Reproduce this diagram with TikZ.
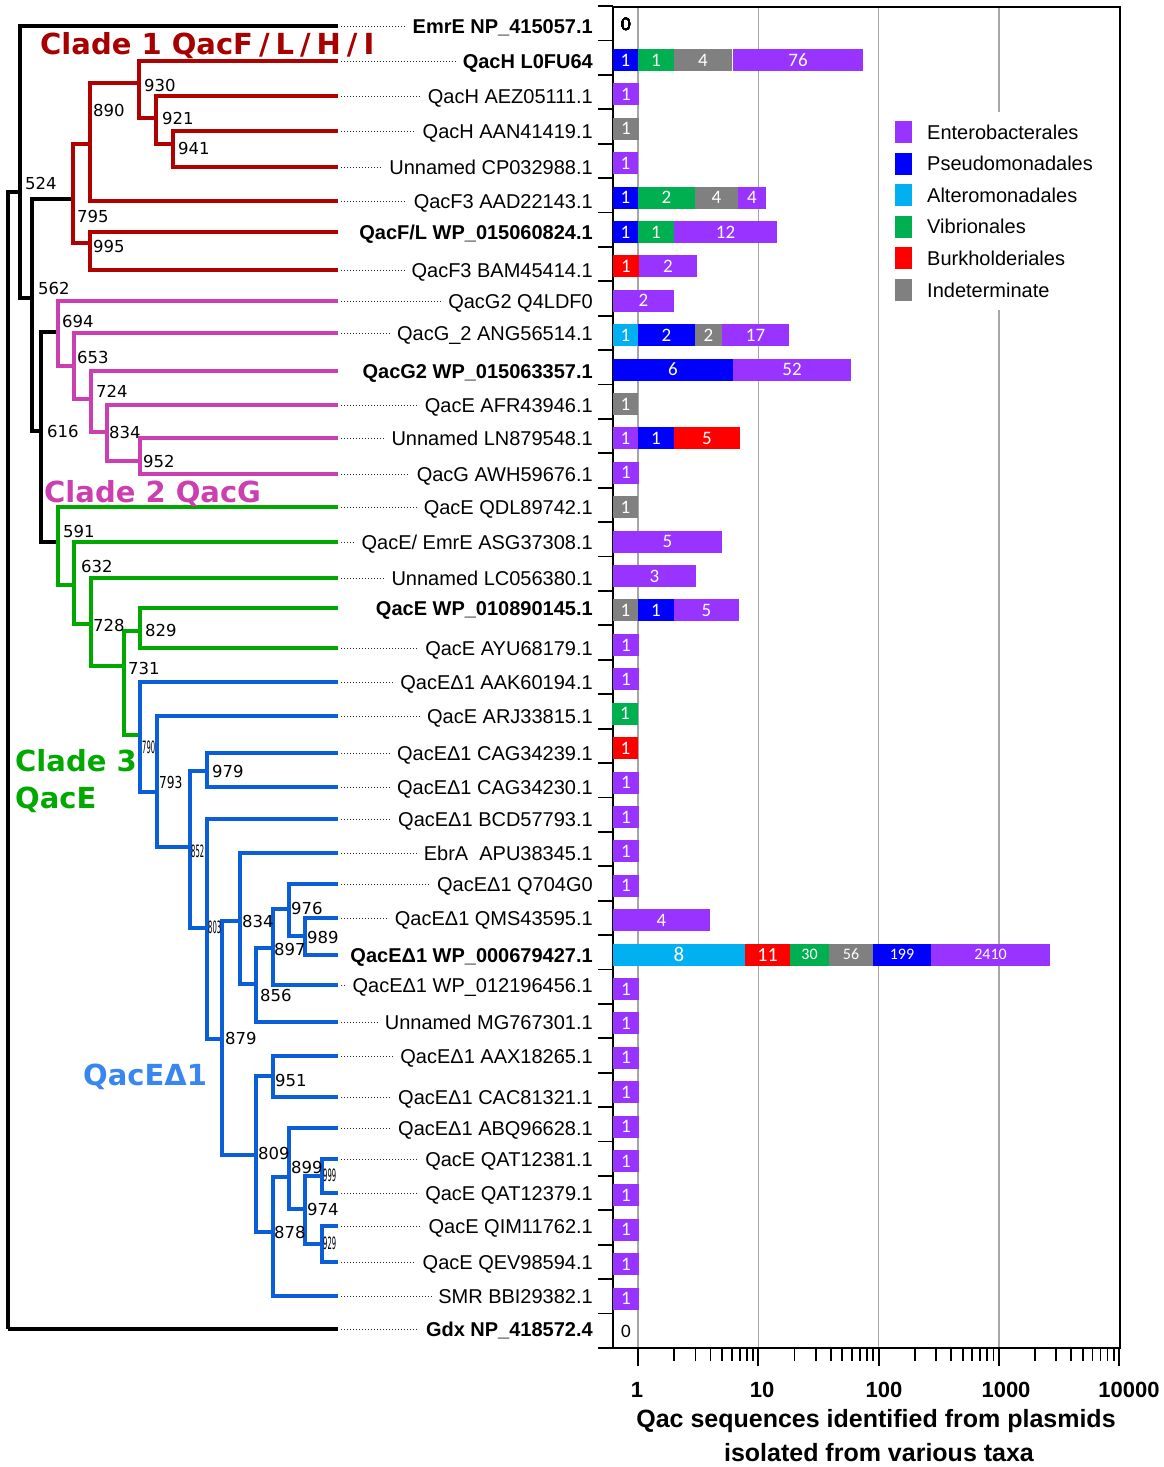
\documentclass[tikz,border=0pt]{standalone}
\usepackage{fontspec}
\usepackage{graphicx}
\setmainfont{Liberation Sans}
\newfontfamily\treefont{DejaVu Sans}
\newfontfamily\barfont{Carlito}
\usepackage{tikz}
\usetikzlibrary{calc}

% taxa colours
\definecolor{ent}{HTML}{9933FF}
\definecolor{pse}{HTML}{0000FF}
\definecolor{alt}{HTML}{00B0F0}
\definecolor{vib}{HTML}{00B050}
\definecolor{bur}{HTML}{FF0000}
\definecolor{ind}{HTML}{808080}
% clade colours
\definecolor{cladered}{HTML}{B00000}
\definecolor{clademag}{HTML}{CC3FB0}
\definecolor{cladegreen}{HTML}{00A800}
\definecolor{cladeblue}{HTML}{0A5FD8}
\definecolor{labelblue}{HTML}{3A86F0}

% one stacked bar piece: [node opts]{row}{x0}{x1}{colour}{count}
\newcommand{\seg}[6][]{%
  \fill[#5] (#3,{25.5+34.41*#2-11}) rectangle (#4,{25.5+34.41*#2+11});
  \node[barnum,#1] (v#2x#3) at ({(#3+#4)/2},{25.5+34.41*#2}) {#6};
}

\begin{document}
\begin{tikzpicture}[x=1pt,y=-1pt,
  branch/.style={line width=3.3pt},
  leader/.style={black!85, line width=0.8pt, dash pattern=on 1pt off 2pt},
  leaf/.style={anchor=base east, inner sep=0pt, font=\fontsize{20}{20}\selectfont},
  boot/.style={anchor=west, inner sep=0pt, font=\treefont\fontsize{16.5}{16.5}\selectfont},
  tinyboot/.style={boot, font=\treefont\fontsize{17}{17}\selectfont},
  clade/.style={anchor=base west, inner sep=0pt, font=\treefont\bfseries\fontsize{29}{29}\selectfont},
  barnum/.style={text=white, inner sep=0pt, font=\barfont\fontsize{19}{19}\selectfont},
  smallnum/.style={font=\barfont\fontsize{16}{16}\selectfont},
  zerolab/.style={inner sep=0pt, font=\barfont\fontsize{19}{19}\selectfont},
  gridline/.style={black!35, line width=1.3pt},
  axisline/.style={black, line width=1.8pt},
  legtext/.style={anchor=base west, inner sep=0pt, font=\fontsize{20}{20}\selectfont},
  ticklab/.style={inner sep=0pt, font=\bfseries\fontsize{22}{22}\selectfont},
  axtitle/.style={inner sep=0pt, font=\bfseries\fontsize{25}{25}\selectfont}]
\useasboundingbox (0,0) rectangle (1163,1467);

% tips
\foreach \k/\y in {0/26,1/61,2/96,3/131,4/167,5/201,6/232,7/270,8/301,9/333,
  10/371,11/405,12/438,13/474,14/507,15/542,16/578,17/608,18/648,19/682,
  20/716,21/753,22/787,23/819,24/853,25/884,26/918,27/955,28/985,29/1022,
  30/1056,31/1097,32/1128,33/1159,34/1193,35/1226,36/1262,37/1296,38/1329}
  \coordinate (t\k) at (338,\y);

% inner nodes
\coordinate (nA) at (8,1329);
\coordinate (nB) at (20,192);
\coordinate (nC) at (32,298);
\coordinate (nD) at (41,431);
\coordinate (n795) at (73,199);
\coordinate (n890) at (90,144);
\coordinate (n930) at (139,83);
\coordinate (n921) at (156,118);
\coordinate (n941) at (173,144);
\coordinate (n995) at (90,243);
\coordinate (n694) at (58,332);
\coordinate (n653) at (74,366);
\coordinate (n724) at (91,399);
\coordinate (n834a) at (107,432);
\coordinate (n952) at (140,461);
\coordinate (n591) at (58,542);
\coordinate (n632) at (74,585);
\coordinate (n728) at (91,624);
\coordinate (n731) at (124,666);
\coordinate (n829) at (140,631);
\coordinate (n790) at (140,735);
\coordinate (n793) at (157,792);
\coordinate (n852) at (190,847);
\coordinate (n979) at (207,771);
\coordinate (n803) at (207,928);
\coordinate (n879) at (222,1039);
\coordinate (n834b) at (240,921);
\coordinate (n856) at (256,984);
\coordinate (n897) at (273,948);
\coordinate (n976) at (289,909);
\coordinate (n989) at (305,936);
\coordinate (n809) at (256,1155);
\coordinate (n951) at (273,1076);
\coordinate (n878) at (273,1232);
\coordinate (n899) at (289,1177);
\coordinate (n974) at (305,1209);
\coordinate (n999) at (322,1176);
\coordinate (n929) at (322,1244);

% backbone
\draw[branch] (nA) |- (nB) (nA) |- (t38);
\draw[branch] (nB) |- (t0) (nB) |- (nC);
\draw[branch] (nC) |- (n795) (nC) |- (nD);
\draw[branch] (nD) |- (n694) (nD) |- (n591);

% clade 1
\draw[branch, cladered] (n795) |- (n890) (n795) |- (n995);
\draw[branch, cladered] (n890) |- (n930) (n890) |- (t5);
\draw[branch, cladered] (n930) |- (t1) (n930) |- (n921);
\draw[branch, cladered] (n921) |- (t2) (n921) |- (n941);
\draw[branch, cladered] (n941) |- (t3) (n941) |- (t4);
\draw[branch, cladered] (n995) |- (t6) (n995) |- (t7);

% clade 2
\draw[branch, clademag] (n694) |- (t8) (n694) |- (n653);
\draw[branch, clademag] (n653) |- (t9) (n653) |- (n724);
\draw[branch, clademag] (n724) |- (t10) (n724) |- (n834a);
\draw[branch, clademag] (n834a) |- (t11) (n834a) |- (n952);
\draw[branch, clademag] (n952) |- (t12) (n952) |- (t13);

% clade 3
\draw[branch, cladegreen] (n591) |- (t14) (n591) |- (n632);
\draw[branch, cladegreen] (n632) |- (t15) (n632) |- (n728);
\draw[branch, cladegreen] (n728) |- (t16) (n728) |- (n731);
\draw[branch, cladegreen] (n731) |- (n829) (n731) |- (n790);
\draw[branch, cladegreen] (n829) |- (t17) (n829) |- (t18);

% QacE delta 1
\draw[branch, cladeblue] (n790) |- (t19) (n790) |- (n793);
\draw[branch, cladeblue] (n793) |- (t20) (n793) |- (n852);
\draw[branch, cladeblue] (n852) |- (n979) (n852) |- (n803);
\draw[branch, cladeblue] (n979) |- (t21) (n979) |- (t22);
\draw[branch, cladeblue] (n803) |- (t23) (n803) |- (n879);
\draw[branch, cladeblue] (n879) |- (n834b) (n879) |- (n809);
\draw[branch, cladeblue] (n834b) |- (t24) (n834b) |- (n856);
\draw[branch, cladeblue] (n856) |- (n897) (n856) |- (t29);
\draw[branch, cladeblue] (n897) |- (n976) (n897) |- (t28);
\draw[branch, cladeblue] (n976) |- (t25) (n976) |- (n989);
\draw[branch, cladeblue] (n989) |- (t26) (n989) |- (t27);
\draw[branch, cladeblue] (n809) |- (n951) (n809) |- (n878);
\draw[branch, cladeblue] (n951) |- (t30) (n951) |- (t31);
\draw[branch, cladeblue] (n878) |- (n899) (n878) |- (t37);
\draw[branch, cladeblue] (n899) |- (t32) (n899) |- (n974);
\draw[branch, cladeblue] (n974) |- (n999) (n974) |- (n929);
\draw[branch, cladeblue] (n999) |- (t33) (n999) |- (t34);
\draw[branch, cladeblue] (n929) |- (t35) (n929) |- (t36);

% bootstrap values
\node[boot] (b524) at (25,183) {524};
\node[boot] (b562) at (38,288) {562};
\node[boot] (b616) at (47,431) {616};
\node[boot] (b930) at (144,85) {930};
\node[boot] (b890) at (93,110) {890};
\node[boot] (b921) at (162,118) {921};
\node[boot] (b941) at (178,148) {941};
\node[boot] (b795) at (77,216) {795};
\node[boot] (b995) at (93,246) {995};
\node[boot] (b694) at (62,321) {694};
\node[boot] (b653) at (77,357) {653};
\node[boot] (b724) at (96,391) {724};
\node[boot] (b834a) at (109,432) {834};
\node[boot] (b952) at (143,461) {952};
\node[boot] (b591) at (63,531) {591};
\node[boot] (b632) at (81,566) {632};
\node[boot] (b728) at (93,625) {728};
\node[boot] (b829) at (145,630) {829};
\node[boot] (b731) at (128,668) {731};
\node[tinyboot] (b790) at (142,747) {\scalebox{0.4}[1]{790}};
\node[boot] (b793) at (159,782) {\scalebox{0.74}[1]{793}};
\node[boot] (b979) at (212,771) {979};
\node[tinyboot] (b852) at (191,851) {\scalebox{0.4}[1]{852}};
\node[tinyboot] (b803) at (208,927) {\scalebox{0.4}[1]{803}};
\node[boot] (b834b) at (242,921) {834};
\node[boot] (b976) at (291,908) {976};
\node[boot] (b989) at (307,937) {989};
\node[boot] (b897) at (274,949) {897};
\node[boot] (b856) at (260,995) {856};
\node[boot] (b879) at (225,1038) {879};
\node[boot] (b951) at (275,1080) {951};
\node[boot] (b809) at (258,1153) {809};
\node[boot] (b899) at (291,1167) {899};
\node[boot] (b974) at (307,1209) {974};
\node[boot] (b878) at (274,1232) {878};
\node[tinyboot] (b999) at (323,1175) {\scalebox{0.4}[1]{999}};
\node[tinyboot] (b929) at (323,1243) {\scalebox{0.4}[1]{929}};

% clade names
\node[clade, text=cladered!95!black] (c1) at (40,54) {Clade 1 QacF\kern6pt/\kern6pt L\kern6pt/\kern6pt H\kern6pt/\kern6pt I};
\node[clade, text=clademag] (c2) at (44,502) {Clade 2 QacG};
\node[clade, text=cladegreen] (c3) at (15,771) {Clade 3};
\node[clade, text=cladegreen] (c3b) at (15,808) {QacE};
\node[clade, text=labelblue] (c4) at (83,1085) {QacEΔ1};

% sequence names
\foreach \k/\txt in {0/{\textbf{EmrE NP\_415057.1}}, 1/{\textbf{QacH L0FU64}},
  2/{QacH AEZ05111.1}, 3/{QacH AAN41419.1}, 4/{Unnamed CP032988.1},
  5/{QacF3 AAD22143.1}, 6/{\textbf{QacF/L WP\_015060824.1}}, 7/{QacF3 BAM45414.1},
  8/{QacG2 Q4LDF0}, 9/{QacG\_2 ANG56514.1}, 10/{\textbf{QacG2 WP\_015063357.1}},
  11/{QacE AFR43946.1}, 12/{Unnamed LN879548.1}, 13/{QacG AWH59676.1},
  14/{QacE QDL89742.1}, 15/{QacE/ EmrE ASG37308.1}, 16/{Unnamed LC056380.1},
  17/{\textbf{QacE WP\_010890145.1}}, 18/{QacE AYU68179.1}, 19/{QacEΔ1 AAK60194.1},
  20/{QacE ARJ33815.1}, 21/{QacEΔ1 CAG34239.1}, 22/{QacEΔ1 CAG34230.1},
  23/{QacEΔ1 BCD57793.1}, 24/{EbrA\ \ APU38345.1}, 25/{QacEΔ1 Q704G0},
  26/{QacEΔ1 QMS43595.1}, 27/{\textbf{QacEΔ1 WP\_000679427.1}},
  28/{QacEΔ1 WP\_012196456.1}, 29/{Unnamed MG767301.1}, 30/{QacEΔ1 AAX18265.1},
  31/{QacEΔ1 CAC81321.1}, 32/{QacEΔ1 ABQ96628.1}, 33/{QacE QAT12381.1},
  34/{QacE QAT12379.1}, 35/{QacE QIM11762.1}, 36/{QacE QEV98594.1},
  37/{SMR BBI29382.1}, 38/{\textbf{Gdx NP\_418572.4}}}
  \node[leaf] (l\k) at ($(t\k)+(255,7)$) {\txt};

% dotted leaders
\foreach \k in {0,1,2,3,4,5,7,8,9,11,12,13,14,15,16,18,19,20,21,22,23,24,25,26,
  28,29,30,31,32,33,34,35,36,37,38}
  \draw[leader] ($(t\k)+(3,0)$) -- ($(t\k -| l\k.west)+(-7,0)$);

% chart grid and frame
\foreach \gx in {638,758.3,878.6,998.9}
  \draw[gridline] (\gx,7) -- (\gx,1348);
\fill[white] (886,112) rectangle (1112,310);
\draw[axisline] (613,7) rectangle (1120,1348);
\foreach \k in {0,...,39}
  \draw[axisline] (598,{6+34.41*\k}) -- (613,{6+34.41*\k});
\foreach \dx in {638,758.3,878.6,998.9,1119.2}
  \draw[axisline] (\dx,1348) -- ++(0,18);
\foreach \dx in {638,758.3,878.6,998.9}
  \foreach \m in {2,...,9}
    \draw[axisline] ({\dx+120.3*log10(\m)},1348) -- ++(0,13);

% bars
\seg{1}{613}{638}{pse}{1}
\seg{1}{638}{674}{vib}{1}
\seg{1}{674}{732}{ind}{4}
\seg{1}{733}{863}{ent}{76}
\seg{3}{613}{639}{ind}{1}
\seg{4}{613}{638}{ent}{1}
\seg{5}{613}{638}{pse}{1}
\seg{5}{638}{695}{vib}{2}
\seg{5}{695}{738}{ind}{4}
\seg{5}{738}{766}{ent}{4}
\seg{6}{613}{638}{pse}{1}
\seg{6}{638}{674}{vib}{1}
\seg{6}{674}{777}{ent}{12}
\seg{7}{613}{639}{bur}{1}
\seg{7}{639}{697}{ent}{2}
\seg{8}{613}{674}{ent}{2}
\seg{9}{613}{638}{alt}{1}
\seg{9}{638}{695}{pse}{2}
\seg{9}{695}{722}{ind}{2}
\seg{9}{722}{789}{ent}{17}
\seg{10}{613}{733}{pse}{6}
\seg{10}{733}{851}{ent}{52}
\seg{11}{613}{638}{ind}{1}
\seg{12}{613}{638}{ent}{1}
\seg{12}{638}{674}{pse}{1}
\seg{12}{674}{740}{bur}{5}
\seg{14}{613}{638}{ind}{1}
\seg{15}{613}{722}{ent}{5}
\seg{16}{613}{696}{ent}{3}
\seg{17}{613}{638}{ind}{1}
\seg{17}{638}{674}{pse}{1}
\seg{17}{674}{739}{ent}{5}
\seg{20}{612}{638}{vib}{1}
\seg{21}{613}{638}{bur}{1}
\seg{26}{613}{710}{ent}{4}
\seg[font=\barfont\fontsize{21}{21}\selectfont]{27}{613}{745}{alt}{8}
\seg[font=\barfont\fontsize{20}{20}\selectfont]{27}{745}{790}{bur}{11}
\seg[smallnum]{27}{790}{829}{vib}{30}
\seg[smallnum]{27}{829}{873}{ind}{56}
\seg[smallnum]{27}{873}{931}{pse}{199}
\seg[smallnum]{27}{931}{1050}{ent}{2410}
\foreach \r in {2,13,18,19,22,23,24,25,28,29,30,31,32,33,34,35,36,37}
  \seg{\r}{613}{639}{ent}{1}
\node[zerolab] (z0) at (626,24) {0};
\node[zerolab] (z38) at (626,1331) {0};

% legend
\foreach \i/\c/\name in {0/ent/Enterobacterales, 1/pse/Pseudomonadales,
  2/alt/Alteromonadales, 3/vib/Vibrionales, 4/bur/Burkholderiales, 5/ind/Indeterminate}{
  \fill[\c] (895,{132+31.6*\i-11}) rectangle (912,{132+31.6*\i+11});
  \node[legtext] (g\i) at (927,{132+31.6*\i+7}) {\name};
}

% axis labels
\node[ticklab] (x1) at (637,1390) {1};
\node[ticklab] (x10) at (762,1390) {10};
\node[ticklab] (x100) at (884,1390) {100};
\node[ticklab] (x1000) at (1006,1390) {1000};
\node[ticklab] (x10000) at (1129,1390) {10000};
\node[axtitle] (tt1) at (876,1421) {Qac sequences identified from plasmids};
\node[axtitle] (tt2) at (879,1453) {isolated from various taxa};
\end{tikzpicture}
\end{document}
